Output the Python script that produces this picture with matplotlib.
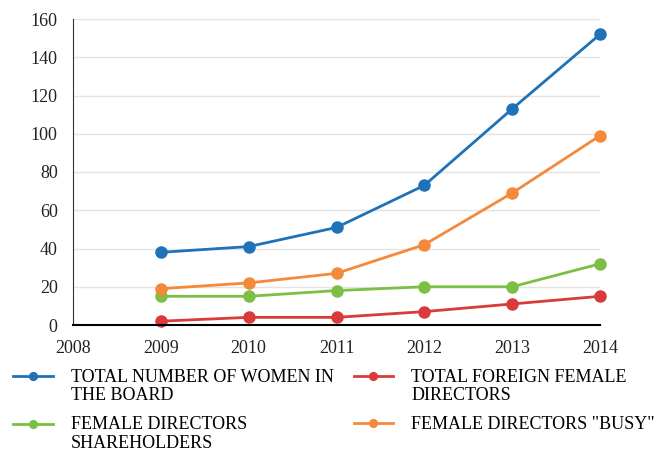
import numpy as np
import matplotlib.pyplot as plt
from matplotlib.legend_handler import HandlerLine2D

years = [2009, 2010, 2011, 2012, 2013, 2014]
total_women = [38, 41, 51, 73, 113, 152]
foreign_female = [2, 4, 4, 7, 11, 15]
shareholders = [15, 15, 18, 20, 20, 32]
busy = [19, 22, 27, 42, 69, 99]

xticks = [2008, 2009, 2010, 2011, 2012, 2013, 2014]
yticks = [0, 20, 40, 60, 80, 100, 120, 140, 160]

plt.rcParams['font.family'] = ['Liberation Serif', 'DejaVu Serif']


class FirstLineHandler(HandlerLine2D):
    # put the legend handle next to the first line of a two-line label
    def create_artists(self, legend, orig_handle, xdescent, ydescent,
                       width, height, fontsize, trans):
        arts = super().create_artists(legend, orig_handle, xdescent, ydescent,
                                      width, height, fontsize, trans)
        for a in arts:
            a.set_ydata(np.asarray(a.get_ydata()) + 7.5)
        return arts


fig = plt.figure(figsize=(6.6, 4.53), dpi=100)
ax = fig.add_axes([73 / 660, 1 - 325 / 453, 527 / 660, 306 / 453])

style = dict(linewidth=2.0, marker='o', markersize=8, clip_on=False)
l1, = ax.plot(years, total_women, color='#1f72b8', label='TOTAL NUMBER OF WOMEN IN\nTHE BOARD', **style)
l2, = ax.plot(years, foreign_female, color='#d93b3b', label='TOTAL FOREIGN FEMALE\nDIRECTORS', **style)
l3, = ax.plot(years, shareholders, color='#7dbf45', label='FEMALE DIRECTORS\nSHAREHOLDERS', **style)
l4, = ax.plot(years, busy, color='#f5893a', label='FEMALE DIRECTORS "BUSY"', **style)

ax.set_xlim(2008, 2014)
ax.set_ylim(0, 160)
ax.set_xticks(xticks)
ax.set_yticks(yticks)
ax.tick_params(length=0, labelsize=13, colors='#222222')
ax.tick_params(axis='x', pad=11)
ax.tick_params(axis='y', pad=11)
ax.grid(axis='y', color='#e3e3e3', linewidth=1)
ax.set_axisbelow(True)
for s in ['top', 'right']:
    ax.spines[s].set_visible(False)
ax.spines['left'].set_color('#333333')
ax.spines['bottom'].set_color('black')
ax.spines['bottom'].set_linewidth(1.5)

hm = {l1: FirstLineHandler(), l2: FirstLineHandler(), l3: FirstLineHandler()}
leg = fig.legend(handles=[l1, l3, l2, l4], loc='upper left', bbox_to_anchor=(0.009, 0.202),
                 ncol=2, frameon=False, fontsize=13, handlelength=2.2, markerscale=0.7,
                 handletextpad=1.0, columnspacing=1.1, labelspacing=0.68, borderaxespad=0,
                 handler_map=hm)
for t in leg.get_texts():
    t.set_linespacing(1.1)

fig.savefig('out.png', dpi=100)
